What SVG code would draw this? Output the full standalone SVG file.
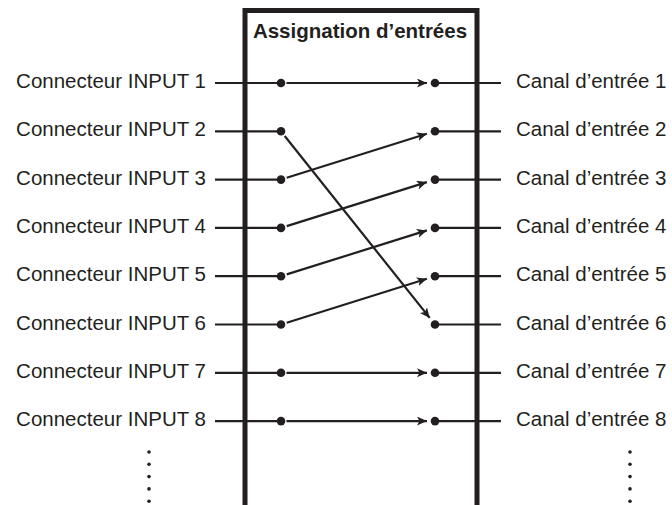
<svg xmlns="http://www.w3.org/2000/svg" width="672" height="505" viewBox="0 0 672 505">
  <style>
    .lbl { font-family: "Liberation Sans", Arial, sans-serif; font-size: 20.5px; fill: #231f20; }
    .lft { text-anchor: end; }
    .hdr { font-family: "Liberation Sans", Arial, sans-serif; font-size: 20.5px; font-weight: bold; fill: #231f20; }
    .box { fill: none; stroke: #231f20; stroke-width: 5; }
    .wire { fill: none; stroke: #231f20; stroke-width: 2.2; }
    .dot { fill: #231f20; }
    .sdot { fill: #231f20; }
  </style>
  <defs>
    <marker id="arr" markerUnits="userSpaceOnUse" markerWidth="12" markerHeight="12" refX="10" refY="4.5" orient="auto">
      <path d="M0,0 L10,4.5 L0,9 L2.5,4.5 z" fill="#231f20"/>
    </marker>
  </defs>
  <rect width="672" height="505" fill="#ffffff"/>

  <g id="assign-box">
    <path class="box" d="M245,507 V10.5 H477 V507"/>
    <text class="hdr" x="360" y="37.5" text-anchor="middle">Assignation d’entrées</text>
  </g>

  <g id="inputs">
    <g id="input1"><text class="lbl lft" x="206" y="88">Connecteur INPUT 1</text><line class="wire" x1="215" y1="83" x2="281" y2="83"/><circle class="dot" cx="281" cy="83" r="4.3"/></g>
    <g id="input2"><text class="lbl lft" x="206" y="136.3">Connecteur INPUT 2</text><line class="wire" x1="215" y1="131.3" x2="281" y2="131.3"/><circle class="dot" cx="281" cy="131.3" r="4.3"/></g>
    <g id="input3"><text class="lbl lft" x="206" y="184.6">Connecteur INPUT 3</text><line class="wire" x1="215" y1="179.6" x2="281" y2="179.6"/><circle class="dot" cx="281" cy="179.6" r="4.3"/></g>
    <g id="input4"><text class="lbl lft" x="206" y="232.9">Connecteur INPUT 4</text><line class="wire" x1="215" y1="227.9" x2="281" y2="227.9"/><circle class="dot" cx="281" cy="227.9" r="4.3"/></g>
    <g id="input5"><text class="lbl lft" x="206" y="281.2">Connecteur INPUT 5</text><line class="wire" x1="215" y1="276.2" x2="281" y2="276.2"/><circle class="dot" cx="281" cy="276.2" r="4.3"/></g>
    <g id="input6"><text class="lbl lft" x="206" y="329.5">Connecteur INPUT 6</text><line class="wire" x1="215" y1="324.5" x2="281" y2="324.5"/><circle class="dot" cx="281" cy="324.5" r="4.3"/></g>
    <g id="input7"><text class="lbl lft" x="206" y="377.8">Connecteur INPUT 7</text><line class="wire" x1="215" y1="372.8" x2="281" y2="372.8"/><circle class="dot" cx="281" cy="372.8" r="4.3"/></g>
    <g id="input8"><text class="lbl lft" x="206" y="426.1">Connecteur INPUT 8</text><line class="wire" x1="215" y1="421.1" x2="281" y2="421.1"/><circle class="dot" cx="281" cy="421.1" r="4.3"/></g>
  </g>

  <g id="channels">
    <g id="ch1"><circle class="dot" cx="435" cy="83" r="4.3"/><line class="wire" x1="435" y1="83" x2="501" y2="83"/><text class="lbl" x="516" y="88">Canal d’entrée 1</text></g>
    <g id="ch2"><circle class="dot" cx="435" cy="131.3" r="4.3"/><line class="wire" x1="435" y1="131.3" x2="501" y2="131.3"/><text class="lbl" x="516" y="136.3">Canal d’entrée 2</text></g>
    <g id="ch3"><circle class="dot" cx="435" cy="179.6" r="4.3"/><line class="wire" x1="435" y1="179.6" x2="501" y2="179.6"/><text class="lbl" x="516" y="184.6">Canal d’entrée 3</text></g>
    <g id="ch4"><circle class="dot" cx="435" cy="227.9" r="4.3"/><line class="wire" x1="435" y1="227.9" x2="501" y2="227.9"/><text class="lbl" x="516" y="232.9">Canal d’entrée 4</text></g>
    <g id="ch5"><circle class="dot" cx="435" cy="276.2" r="4.3"/><line class="wire" x1="435" y1="276.2" x2="501" y2="276.2"/><text class="lbl" x="516" y="281.2">Canal d’entrée 5</text></g>
    <g id="ch6"><circle class="dot" cx="435" cy="324.5" r="4.3"/><line class="wire" x1="435" y1="324.5" x2="501" y2="324.5"/><text class="lbl" x="516" y="329.5">Canal d’entrée 6</text></g>
    <g id="ch7"><circle class="dot" cx="435" cy="372.8" r="4.3"/><line class="wire" x1="435" y1="372.8" x2="501" y2="372.8"/><text class="lbl" x="516" y="377.8">Canal d’entrée 7</text></g>
    <g id="ch8"><circle class="dot" cx="435" cy="421.1" r="4.3"/><line class="wire" x1="435" y1="421.1" x2="501" y2="421.1"/><text class="lbl" x="516" y="426.1">Canal d’entrée 8</text></g>
  </g>

  <g id="connectors">
    <line class="wire" x1="286.5" y1="83" x2="427" y2="83" marker-end="url(#arr)"/>
    <line class="wire" x1="284.7" y1="136" x2="429.7" y2="317.9" marker-end="url(#arr)"/>
    <line class="wire" x1="286.7" y1="177.8" x2="426.9" y2="133.8" marker-end="url(#arr)"/>
    <line class="wire" x1="286.7" y1="226.1" x2="426.9" y2="182.1" marker-end="url(#arr)"/>
    <line class="wire" x1="286.7" y1="274.4" x2="426.9" y2="230.4" marker-end="url(#arr)"/>
    <line class="wire" x1="286.7" y1="322.7" x2="426.9" y2="278.7" marker-end="url(#arr)"/>
    <line class="wire" x1="286.5" y1="372.8" x2="427" y2="372.8" marker-end="url(#arr)"/>
    <line class="wire" x1="286.5" y1="421.1" x2="427" y2="421.1" marker-end="url(#arr)"/>
  </g>

  <g id="ellipsis-left">
    <circle class="sdot" cx="149" cy="452" r="1.8"/>
    <circle class="sdot" cx="149" cy="464.3" r="1.8"/>
    <circle class="sdot" cx="149" cy="476.6" r="1.8"/>
    <circle class="sdot" cx="149" cy="488.9" r="1.8"/>
    <circle class="sdot" cx="149" cy="501.2" r="1.8"/>
  </g>
  <g id="ellipsis-right">
    <circle class="sdot" cx="630" cy="452" r="1.8"/>
    <circle class="sdot" cx="630" cy="464.3" r="1.8"/>
    <circle class="sdot" cx="630" cy="476.6" r="1.8"/>
    <circle class="sdot" cx="630" cy="488.9" r="1.8"/>
    <circle class="sdot" cx="630" cy="501.2" r="1.8"/>
  </g>
</svg>
